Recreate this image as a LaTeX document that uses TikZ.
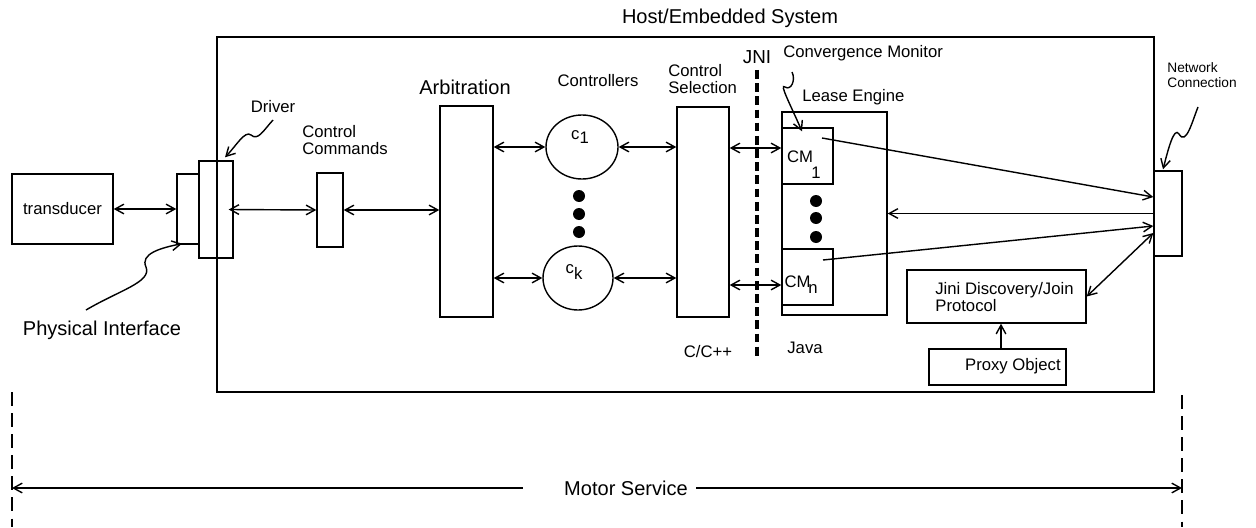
\documentclass[tikz,border=0pt]{standalone}
\usepackage{fontspec}
\setmainfont{Liberation Sans}
\usetikzlibrary{arrows.meta,shapes.geometric,calc}
\def\pu{0.02cm}
\tikzset{
  box/.style={draw, line width=0.8pt, inner sep=0pt},
  lbl/.style={inner sep=0pt, font=\fontsize{9.5}{9.6}\selectfont},
  big/.style={inner sep=0pt, font=\fontsize{11.4}{12}\selectfont},
  small/.style={inner sep=0pt, font=\fontsize{7.8}{8.6}\selectfont},
  tip/.tip={Straight Barb[length=5pt,width=5.5pt]},
  dbl/.style={line width=0.8pt, tip-tip},
  one/.style={line width=0.8pt, -tip},
  wavy/.style={line width=0.8pt, -tip},
  dot/.style={circle, fill, inner sep=0pt, minimum size=12*\pu},
  ctrl/.style={draw, ellipse, line width=0.8pt, inner sep=0pt},
  msline/.style={line width=0.6pt, dash pattern=on 8pt off 4pt},
  jniline/.style={line width=2pt, dash pattern=on 5pt off 2.5pt},
}
\begin{document}
\begin{tikzpicture}[x=0.02cm,y=-0.02cm]
\useasboundingbox (0,0) rectangle (1256,527);

% host system frame
\draw[line width=1.1pt] (217,37) rectangle (1154,392);
\node[big] (host) at (730,18) {Host/Embedded System};

% left part
\node[box, lbl, minimum width=101*\pu, minimum height=70*\pu] (trans) at (62.5,209) {transducer};
\node[box, minimum width=22*\pu, minimum height=70*\pu] (phys) at (188,209) {};
\node[box, minimum width=34*\pu, minimum height=97*\pu] (driver) at (216,209.5) {};
\node[box, minimum width=26*\pu, minimum height=74*\pu] (cc) at (330,210) {};
\node[box, minimum width=53*\pu, minimum height=211*\pu] (arb) at (466.5,211.5) {};
\node[box, minimum width=52*\pu, minimum height=210*\pu] (cs) at (703,212) {};

\node[big] (pil) at (102,330) {Physical Interface};
\node[lbl] (drl) at (273,107) {Driver};
\node[lbl, align=left, anchor=west] (ccl) at (302,140) {Control\\Commands};
\node[big] (arbl) at (465,87) {Arbitration};
\node[lbl] (ctl) at (598,81) {Controllers};
\node[lbl, align=left, anchor=west] (csl) at (668,79) {Control\\Selection};

% controllers
\node[ctrl, minimum width=72*\pu, minimum height=64*\pu] (c1) at (582,147) {};
\node[ctrl, minimum width=70*\pu, minimum height=64*\pu] (ck) at (578,278) {};
\node[lbl] (c1t) at (580,137) {c\raisebox{-2pt}{1}};
\node[lbl] (ckt) at (574,272) {c\raisebox{-3pt}{k}};
\node[dot] (d1) at (579,196) {};
\node[dot] (d2) at (579,214) {};
\node[dot] (d3) at (579,232) {};

% JNI
\node[inner sep=0pt, font=\fontsize{10.7}{11}\selectfont] (jni) at (757,57) {JNI};
\draw[jniline] (757,70) -- (757,357);
\node[lbl] (cpp) at (708,352) {C/C++};
\node[lbl] (java) at (805,348) {Java};

% Java side
\node[lbl, anchor=west] (cmon) at (783,53) {Convergence Monitor};
\node[lbl, anchor=west] (lel) at (802,97) {Lease Engine};
\node[box, minimum width=105*\pu, minimum height=203*\pu] (lease) at (834.5,213.5) {};
\node[box, fill=white, minimum width=51*\pu, minimum height=56*\pu] (cm1) at (807.5,156) {};
\node[box, fill=white, minimum width=51*\pu, minimum height=56*\pu] (cmn) at (807.5,277) {};
\node[lbl] (cm1a) at (800,157) {CM};
\node[lbl] (cm1b) at (816,173) {1};
\node[lbl] (cmna) at (797.5,282) {CM};
\node[lbl] (cmnb) at (813,289) {n};
\node[dot] (e1) at (816,201) {};
\node[dot] (e2) at (816,218) {};
\node[dot] (e3) at (816,237) {};

\node[box, minimum width=28*\pu, minimum height=85*\pu] (net) at (1168,213.5) {};
\node[small, align=left, anchor=west] (netl) at (1167,75) {Network\\Connection};
\node[box, minimum width=179*\pu, minimum height=53*\pu] (jini) at (996.5,296.5) {};
\node[lbl, align=left, anchor=west] (jinil) at (935,297) {Jini Discovery/Join\\Protocol};
\node[box, minimum width=137*\pu, minimum height=36*\pu] (proxy) at (997.5,367) {};
\node[lbl, anchor=east] (proxyl) at (1061,366) {Proxy Object};

% connectors
\draw[dbl] (trans.east) -- (phys.west);
\draw[dbl] ([xshift=-5*\pu]driver.east) -- (cc.west);
\draw[dbl] (cc.east) -- (cc.east -| arb.west);
\draw[dbl] (arb.east |- c1.west) -- (c1.west);
\draw[dbl] (arb.east |- ck.west) -- (ck.west);
\draw[dbl] (c1.east) -- (c1.east -| cs.west);
\draw[dbl] (ck.east) -- (ck.east -| cs.west);
\draw[dbl] ([yshift=8*\pu]cs.east |- cm1.west) -- ([yshift=8*\pu]cm1.west);
\draw[dbl] ([yshift=-8*\pu]cs.east |- cmn.west) -- ([yshift=-8*\pu]cmn.west);
\draw[one] ([xshift=14.5*\pu,yshift=18*\pu]cm1.center) -- ([yshift=16.5*\pu]net.west);
\draw[one] (net.west) -- (net.west -| lease.east);
\draw[one] ([xshift=15.5*\pu,yshift=17*\pu]cmn.center) -- ([yshift=-12.5*\pu]net.west);
\draw[dbl] (jini.east) -- ([yshift=-19.5*\pu]net.west);
\draw[one] (proxy.north -| 1001,0) -- (jini.south -| 1001,0);

% annotation squiggles
\coordinate (piS) at (86,310);
\draw[wavy] (piS) .. controls (120,290) and (152,282) .. (146,267)
  .. controls (140,254) and (160,248) .. ([xshift=-6*\pu,yshift=1*\pu]phys.south);
\coordinate (drS) at (273,120);
\draw[wavy] (drS) .. controls (263,131) and (258,141) .. (251,135)
  .. controls (245,130) and (236,146) .. ([xshift=9*\pu,yshift=3*\pu]driver.north);
\coordinate (cmS) at (792,72);
\draw[wavy] (cmS) .. controls (796,80) and (791,91) .. (785,87)
  .. controls (779,83) and (790,104) .. ([xshift=-5.5*\pu,yshift=-4*\pu]cm1.north);
\coordinate (ncS) at (1198,107);
\draw[wavy] (ncS) .. controls (1192,122) and (1186,146) .. (1179,134)
  .. controls (1174,126) and (1168,150) .. ([xshift=-5*\pu,yshift=1*\pu]net.north);

% motor service span
\draw[msline] (12,392) -- (12,527);
\draw[msline] (1182,395) -- (1182,527);
\coordinate (ml) at (12,488);
\coordinate (mr) at (1182,488);
\node[big] (ms) at (626,488) {Motor Service};
\draw[one] ([xshift=-41*\pu]ms.west) -- (ml);
\draw[one] ([xshift=8*\pu]ms.east) -- (mr);
\end{tikzpicture}
\end{document}
